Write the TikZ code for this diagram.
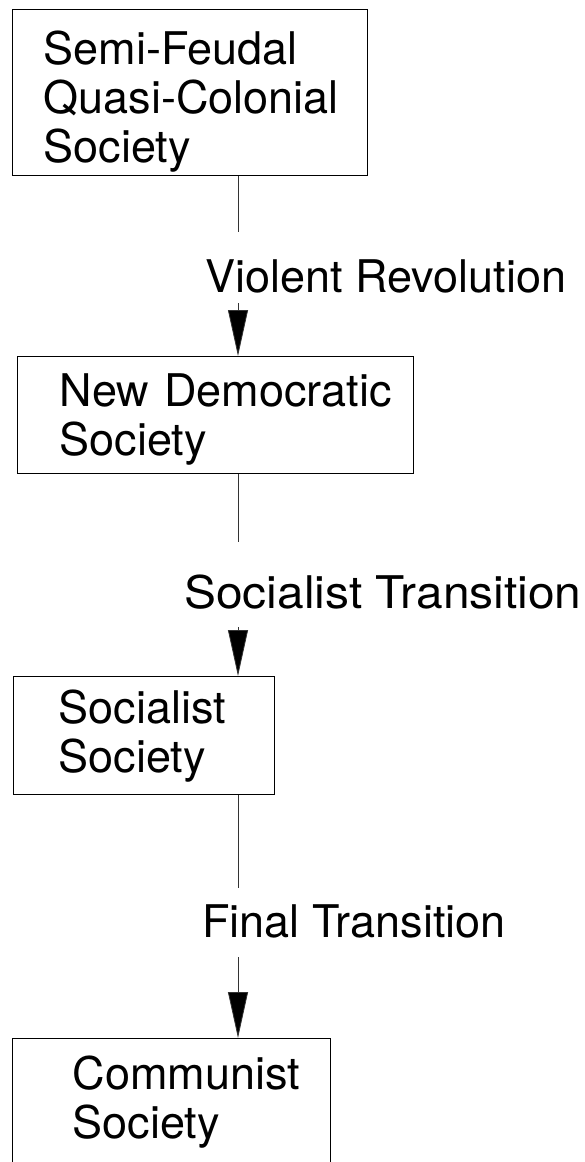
\documentclass[tikz,border=0pt]{standalone}
\usepackage{fontspec}
\setmainfont{TeX Gyre Heros}
\usetikzlibrary{arrows.meta}
\begin{document}
\begin{tikzpicture}[x=1pt,y=-1pt,
  big/.style={font=\fontsize{45}{49}\selectfont},
  stage/.style={big, draw=black, line width=1.3pt, anchor=north west,
    inner ysep=0pt, align=left},
  tag/.style={big, anchor=base west, inner sep=0pt},
  link/.style={draw=black!80, line width=0.8pt},
  flow/.style={link, -{Triangle[length=46pt,width=20pt,fill=black]}}]
\path[use as bounding box, clip] (0,0) rectangle (584,1162);

% stages of society
\node[stage, inner xsep=31pt, text width=293pt, text height=55pt, text depth=111pt]
  (b1) at (12,9) {Semi-Feudal\\\mbox{Quasi-Colonial}\\Society};
\node[stage, inner xsep=42pt, text width=312pt, text height=50pt, text depth=67pt]
  (b2) at (17,356) {\mbox{New Democratic}\\Society};
\node[stage, inner xsep=45pt, text width=171pt, text height=47pt, text depth=71pt]
  (b3) at (13,676) {Socialist\\Society};
\node[stage, inner xsep=60pt, text width=198pt, text height=51pt, text depth=110pt]
  (b4) at (12,1038) {\mbox{Communist}\\Society};

% transition labels
\node[tag] (t1) at (205,292) {Violent Revolution};
\node[tag] (t2) at (184,608) {\scalebox{1.065}[1]{Socialist Transition}};
\node[tag] (t3) at (202,937) {Final Transition};

% ends of the connector pieces around each label
\coordinate (g1a) at (238,232);
\coordinate (g1b) at (238,303);
\coordinate (g2a) at (238,542);
\coordinate (g2b) at (238,627);
\coordinate (g3a) at (238,888);
\coordinate (g3b) at (238,957);

\draw[link] (g1a |- b1.south) -- (g1a);
\draw[flow] (g1b) -- (g1b |- b2.north);
\draw[link] (g2a |- b2.south) -- (g2a);
\draw[flow] (g2b) -- (g2b |- b3.north);
\draw[link] (g3a |- b3.south) -- (g3a);
\draw[flow] (g3b) -- (g3b |- b4.north);
\end{tikzpicture}
\end{document}
